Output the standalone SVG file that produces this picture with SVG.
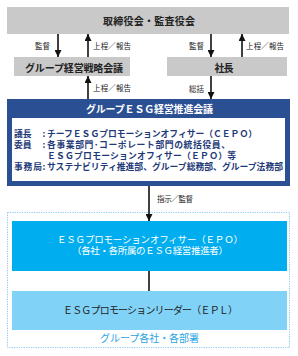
<svg xmlns="http://www.w3.org/2000/svg" width="298" height="356" viewBox="0 0 298 356">
<style>
text{font-family:"Noto Sans CJK JP","Noto Sans",sans-serif}
.grey{fill:#c9c9c9}
.title{font-size:10px;font-weight:bold;fill:#222;text-anchor:middle}
.lbl{font-size:7.5px;fill:#222}
.body{font-size:8.8px;font-weight:bold;fill:#1e3a78}
.conn{stroke:#111;stroke-width:1.6;fill:none}
</style>
<defs>
<marker id="ah" viewBox="0 0 8 8" refX="8" refY="4" markerWidth="7" markerHeight="7" markerUnits="userSpaceOnUse" orient="auto">
<path d="M0,0 L8,4 L0,8 z" fill="#111"/>
</marker>
</defs>
<rect width="298" height="356" fill="#fff"/>

<g id="group-frame">
<rect x="7.5" y="212.5" width="282" height="135" fill="none" stroke="#8cc8ee" stroke-width="1" stroke-dasharray="1.2,1.2"/>
<text x="149.5" y="341.5" style="font-size:10px;fill:#2aa3e3;text-anchor:middle" textLength="99">グループ各社・各部署</text>
</g>

<g id="board">
<rect class="grey" x="7" y="7" width="282" height="27"/>
<text class="title" x="149" y="24.5" textLength="92">取締役会・監査役会</text>
</g>

<g id="strategy">
<rect class="grey" x="14" y="57" width="116" height="19"/>
<text class="title" x="74" y="71.5" textLength="98">グループ経営戦略会議</text>
</g>

<g id="president">
<rect class="grey" x="167" y="57" width="120" height="19"/>
<text class="title" x="224" y="71.5" textLength="19">社長</text>
</g>

<g id="esg-council">
<rect x="7" y="99" width="283" height="87" fill="#2b4f93"/>
<text class="title" x="149.5" y="112.5" style="fill:#fff" textLength="127">グループＥＳＧ経営推進会議</text>
<rect x="12" y="118" width="273" height="63" fill="#fff"/>
<text class="body" x="14" y="136.5">議長</text>
<text class="body" x="42.5" y="136.5">:</text>
<text class="body" x="47" y="136.5" textLength="210">チーフＥＳＧプロモーションオフィサー（ＣＥＰＯ）</text>
<text class="body" x="14" y="148.2">委員</text>
<text class="body" x="42.5" y="148.2">:</text>
<text class="body" x="47" y="148.2" textLength="183">各事業部門･コーポレート部門の統括役員、</text>
<text class="body" x="47" y="158.5" textLength="189">ＥＳＧプロモーションオフィサー（ＥＰＯ）等</text>
<text class="body" x="14" y="169.5" textLength="28">事務局</text>
<text class="body" x="42.5" y="169.5">:</text>
<text class="body" x="47" y="169.5" textLength="236">サステナビリティ推進部、グループ総務部、グループ法務部</text>
</g>

<g id="epo">
<rect x="12" y="221" width="275" height="50" fill="#00aeef"/>
<text class="title" x="150" y="242.7" style="fill:#fff;font-weight:normal;font-size:9.5px" textLength="186">ＥＳＧプロモーションオフィサー（ＥＰＯ）</text>
<text class="title" x="150" y="254" style="fill:#fff;font-weight:normal;font-size:9.5px" textLength="156">（各社・各所属のＥＳＧ経営推進者）</text>
</g>

<g id="epl">
<rect x="12" y="291" width="275" height="39" fill="#80d3f7"/>
<text class="title" x="150.5" y="313.5" style="font-weight:normal" textLength="175">ＥＳＧプロモーションリーダー（ＥＰＬ）</text>
</g>

<g id="connectors">
<line class="conn" x1="58" y1="34" x2="58" y2="57" marker-end="url(#ah)"/>
<line class="conn" x1="88" y1="57" x2="88" y2="34" marker-end="url(#ah)"/>
<line class="conn" x1="211" y1="34" x2="211" y2="57" marker-end="url(#ah)"/>
<line class="conn" x1="242" y1="57" x2="242" y2="34" marker-end="url(#ah)"/>
<line class="conn" x1="88" y1="99" x2="88" y2="76" marker-end="url(#ah)"/>
<line class="conn" x1="211" y1="76" x2="211" y2="99" marker-end="url(#ah)"/>
<line class="conn" x1="149" y1="186" x2="149" y2="221" marker-end="url(#ah)"/>
<line class="conn" x1="149" y1="271" x2="149" y2="291"/>
<text class="lbl" x="50" y="48.5" text-anchor="end">監督</text>
<text class="lbl" x="93" y="48.5" textLength="38">上程／報告</text>
<text class="lbl" x="204" y="48.5" text-anchor="end">監督</text>
<text class="lbl" x="246" y="48.5" textLength="38">上程／報告</text>
<text class="lbl" x="93" y="91" textLength="38">上程／報告</text>
<text class="lbl" x="204" y="91.5" text-anchor="end">総括</text>
<text class="lbl" x="157" y="202" textLength="36">指示／監督</text>
</g>
</svg>
